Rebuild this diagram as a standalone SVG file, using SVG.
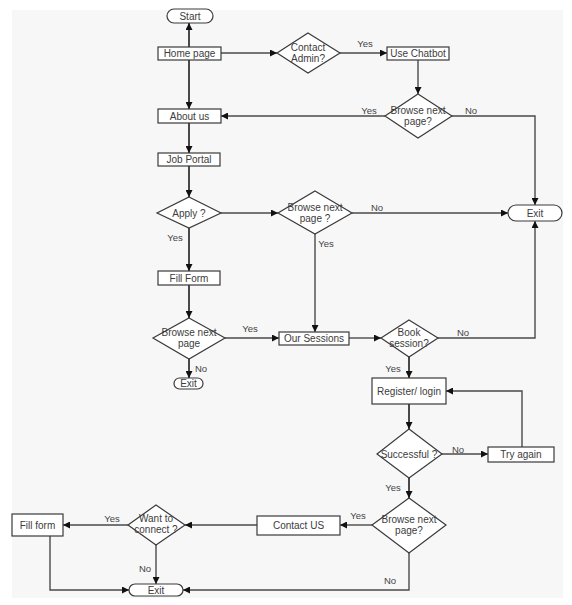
<svg xmlns="http://www.w3.org/2000/svg" width="572" height="605" viewBox="0 0 572 605">
<style>
.sh{fill:#ffffff;stroke:#3a3a3a;stroke-width:1.2}
.t{font-family:"Liberation Sans",Arial,sans-serif;font-size:10px;fill:#3c3c3c;text-anchor:middle}
.lb{font-family:"Liberation Sans",Arial,sans-serif;font-size:9.5px;fill:#444;text-anchor:middle}
.c{fill:none;stroke:#4a4a4a;stroke-width:1.4}
.m{stroke-width:2}
</style>
<defs>
<marker id="ah" markerWidth="8" markerHeight="7" refX="7" refY="3.5" orient="auto" markerUnits="userSpaceOnUse">
<path d="M0,0 L7,3.5 L0,7 z" fill="#111"/>
</marker>
</defs>
<rect x="0" y="0" width="572" height="605" fill="#ffffff"/>
<rect x="12" y="10" width="551" height="588" fill="#f7f7f7"/>
<g id="connectors">
<line class="c m" x1="189" y1="47" x2="189" y2="23" marker-end="url(#ah)"/>
<line class="c m" x1="189" y1="60" x2="189" y2="109" marker-end="url(#ah)"/>
<line class="c" x1="221" y1="53" x2="277" y2="53" marker-end="url(#ah)"/>
<line class="c" x1="340" y1="53" x2="387" y2="53" marker-end="url(#ah)"/>
<line class="c" x1="418" y1="60" x2="418" y2="94" marker-end="url(#ah)"/>
<line class="c" x1="385" y1="116" x2="221" y2="116" marker-end="url(#ah)"/>
<polyline class="c" points="452,116 535,116 535,205" marker-end="url(#ah)"/>
<line class="c m" x1="189" y1="123" x2="189" y2="153" marker-end="url(#ah)"/>
<line class="c m" x1="189" y1="166" x2="189" y2="197" marker-end="url(#ah)"/>
<line class="c" x1="221" y1="213" x2="278" y2="213" marker-end="url(#ah)"/>
<line class="c" x1="352" y1="213" x2="508" y2="213" marker-end="url(#ah)"/>
<line class="c m" x1="189" y1="228" x2="189" y2="271" marker-end="url(#ah)"/>
<line class="c" x1="315" y1="234" x2="315" y2="332" marker-end="url(#ah)"/>
<line class="c m" x1="189" y1="285" x2="189" y2="318" marker-end="url(#ah)"/>
<line class="c" x1="225" y1="338" x2="279" y2="338" marker-end="url(#ah)"/>
<line class="c m" x1="189" y1="359" x2="189" y2="378" marker-end="url(#ah)"/>
<line class="c" x1="349" y1="338" x2="381" y2="338" marker-end="url(#ah)"/>
<polyline class="c" points="438,338 535,338 535,221" marker-end="url(#ah)"/>
<line class="c m" x1="409" y1="357" x2="409" y2="378" marker-end="url(#ah)"/>
<line class="c m" x1="409" y1="404" x2="409" y2="429" marker-end="url(#ah)"/>
<line class="c" x1="442" y1="454" x2="488" y2="454" marker-end="url(#ah)"/>
<polyline class="c" points="522,447 522,391 446,391" marker-end="url(#ah)"/>
<line class="c m" x1="409" y1="478" x2="409" y2="498" marker-end="url(#ah)"/>
<line class="c" x1="372" y1="525" x2="340" y2="525" marker-end="url(#ah)"/>
<polyline class="c" points="409,553 409,590 183,590" marker-end="url(#ah)"/>
<line class="c" x1="257" y1="525" x2="185" y2="525" marker-end="url(#ah)"/>
<line class="c" x1="128" y1="525" x2="63" y2="525" marker-end="url(#ah)"/>
<line class="c" x1="156" y1="545" x2="156" y2="584" marker-end="url(#ah)"/>
<polyline class="c" points="50,536 50,590 129,590" marker-end="url(#ah)"/>
</g>
<g id="labels">
<text class="lb" x="365" y="47">Yes</text>
<text class="lb" x="369" y="114">Yes</text>
<text class="lb" x="471" y="114">No</text>
<text class="lb" x="377" y="211">No</text>
<text class="lb" x="175" y="241">Yes</text>
<text class="lb" x="326" y="247">Yes</text>
<text class="lb" x="250" y="332">Yes</text>
<text class="lb" x="201" y="372">No</text>
<text class="lb" x="463" y="336">No</text>
<text class="lb" x="393" y="372">Yes</text>
<text class="lb" x="458" y="453">No</text>
<text class="lb" x="393" y="491">Yes</text>
<text class="lb" x="358" y="519">Yes</text>
<text class="lb" x="112" y="522">Yes</text>
<text class="lb" x="145" y="572">No</text>
<text class="lb" x="390" y="584">No</text>
</g>
<g id="start"><rect class="sh" x="167" y="9" width="46" height="14" rx="7"/><text class="t" x="190" y="19.5">Start</text></g>
<g id="home"><rect class="sh" x="158" y="47" width="63" height="13"/><text class="t" x="189.5" y="57">Home page</text></g>
<g id="contact-admin"><polygon class="sh" points="308,33 340,53 308,73 277,53"/><text class="t" x="308" y="51">Contact</text><text class="t" x="308" y="62">Admin?</text></g>
<g id="chatbot"><rect class="sh" x="387" y="47" width="62" height="13"/><text class="t" x="418" y="57">Use Chatbot</text></g>
<g id="browse1"><polygon class="sh" points="418,94 452,116 418,138 385,116"/><text class="t" x="418" y="114">Browse next</text><text class="t" x="418" y="125">page?</text></g>
<g id="about"><rect class="sh" x="158" y="109" width="63" height="14"/><text class="t" x="189.5" y="119.5">About us</text></g>
<g id="job"><rect class="sh" x="158" y="153" width="62" height="13"/><text class="t" x="189" y="163">Job Portal</text></g>
<g id="apply"><polygon class="sh" points="189,197 221,213 189,228 157,213"/><text class="t" x="189" y="216.5">Apply ?</text></g>
<g id="browse2"><polygon class="sh" points="315,191 352,213 315,234 278,213"/><text class="t" x="315" y="211">Browse next</text><text class="t" x="315" y="222">page ?</text></g>
<g id="exit1"><rect class="sh" x="508" y="205" width="54" height="16" rx="8"/><text class="t" x="535" y="216.5">Exit</text></g>
<g id="fillform1"><rect class="sh" x="158" y="271" width="62" height="14"/><text class="t" x="189" y="281.5">Fill Form</text></g>
<g id="browse3"><polygon class="sh" points="189,318 225,338 189,359 153,338"/><text class="t" x="189" y="336">Browse next</text><text class="t" x="189" y="347">page</text></g>
<g id="exit2"><rect class="sh" x="174" y="378" width="29" height="11" rx="5.5"/><text class="t" x="188.5" y="387">Exit</text></g>
<g id="sessions"><rect class="sh" x="279" y="332" width="70" height="13"/><text class="t" x="314" y="342">Our Sessions</text></g>
<g id="book"><polygon class="sh" points="409,320 438,338 409,357 381,338"/><text class="t" x="409" y="336">Book</text><text class="t" x="409" y="347">session?</text></g>
<g id="register"><rect class="sh" x="372" y="378" width="74" height="26"/><text class="t" x="409" y="394.5">Register/ login</text></g>
<g id="successful"><polygon class="sh" points="409,429 442,454 409,478 377,454"/><text class="t" x="409" y="457.5">Successful ?</text></g>
<g id="tryagain"><rect class="sh" x="488" y="447" width="66" height="15"/><text class="t" x="521" y="458">Try again</text></g>
<g id="browse4"><polygon class="sh" points="409,498 446,525 409,553 372,525"/><text class="t" x="409" y="523">Browse next</text><text class="t" x="409" y="534">page?</text></g>
<g id="contactus"><rect class="sh" x="257" y="516" width="83" height="19"/><text class="t" x="298.5" y="529">Contact US</text></g>
<g id="want"><polygon class="sh" points="156,505 185,525 156,545 128,525"/><text class="t" x="156" y="522">Want to</text><text class="t" x="156" y="533">connect ?</text></g>
<g id="fillform2"><rect class="sh" x="12" y="514" width="51" height="22"/><text class="t" x="37.5" y="528.5">Fill form</text></g>
<g id="exit3"><rect class="sh" x="129" y="584" width="54" height="12" rx="6"/><text class="t" x="156" y="593.5">Exit</text></g>
</svg>
